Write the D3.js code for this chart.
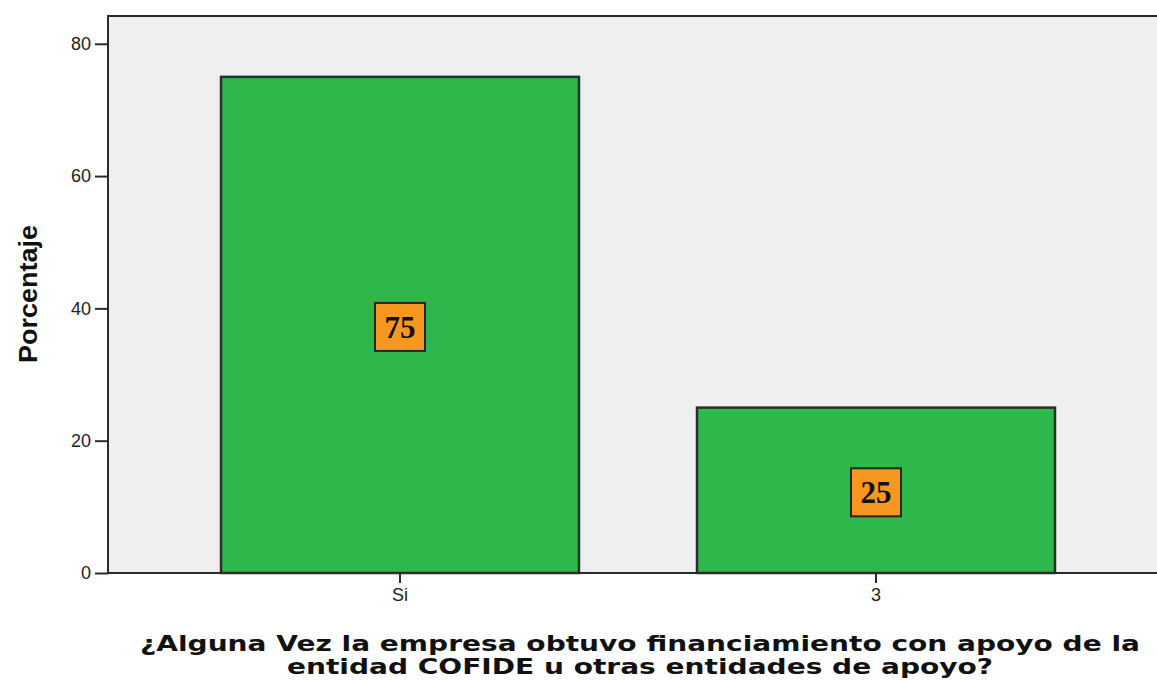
<!DOCTYPE html>
<html>
<head>
<meta charset="utf-8">
<script src="https://cdn.jsdelivr.net/npm/d3@7"></script>
<style>
  body { margin: 0; background: #fff; }
</style>
</head>
<body>
<div id="myplot"></div>
<script>
// data
var categories = ["Si", "3"];
var values = [75, 25];
var yTicks = [0, 20, 40, 60, 80];
var xTitle = ["¿Alguna Vez la empresa obtuvo financiamiento con apoyo de la",
              "entidad COFIDE u otras entidades de apoyo?"];

var svg = d3.select('div#myplot')
  .append('svg')
  .attr('width', 1157)
  .attr('height', 681);

var plot = {left: 108, top: 16, right: 1160, bottom: 573};

var x = d3.scaleBand()
  .domain(categories)
  .range([162, 1114])
  .paddingInner(0.248)
  .paddingOuter(0.124);

var y = d3.scaleLinear()
  .domain([0, 84.2])
  .range([plot.bottom, plot.top]);

// background
svg.append("rect")
  .attr("x", plot.left).attr("y", plot.top)
  .attr("width", plot.right - plot.left)
  .attr("height", plot.bottom - plot.top)
  .attr("fill", "#efefef")
  .attr("stroke", "#2b2b2b")
  .attr("stroke-width", 2);

// bars
svg.append("g").selectAll("rect")
  .data(values)
  .enter()
  .append("rect")
  .attr("x", (d, i) => x(categories[i]))
  .attr("y", d => y(d))
  .attr("width", x.bandwidth())
  .attr("height", d => y(0) - y(d))
  .attr("fill", "#2eb84b")
  .attr("stroke", "#26302a")
  .attr("stroke-width", 2.5);

// value labels
var lab = svg.append("g").selectAll("g")
  .data(values)
  .enter()
  .append("g")
  .attr("transform", (d, i) => "translate(" + (x(categories[i]) + x.bandwidth() / 2) + "," + (y(d / 2) + 2) + ")");

lab.append("rect")
  .attr("x", -25).attr("y", -24)
  .attr("width", 50).attr("height", 48)
  .attr("fill", "#f7971f")
  .attr("stroke", "#262626")
  .attr("stroke-width", 2);

lab.append("text")
  .attr("y", 11)
  .attr("text-anchor", "middle")
  .attr("font-family", "'Liberation Serif', 'Times New Roman', serif")
  .attr("font-weight", "bold")
  .attr("font-size", 31)
  .attr("fill", "#111")
  .text(d => d);

// y axis
var yAxis = svg.append("g")
  .attr("transform", "translate(" + plot.left + ",0)")
  .call(d3.axisLeft(y).tickValues(yTicks).tickSize(13).tickPadding(4));
yAxis.select(".domain").remove();
yAxis.selectAll("line").attr("stroke", "#2b2b2b").attr("stroke-width", 2);
yAxis.selectAll("text")
  .attr("font-family", "'Liberation Sans', Arial, sans-serif")
  .attr("font-size", 18)
  .attr("fill", "#222");

// x axis
var xAxis = svg.append("g")
  .attr("transform", "translate(0," + plot.bottom + ")")
  .call(d3.axisBottom(x).tickSize(10).tickPadding(5));
xAxis.select(".domain").remove();
xAxis.selectAll("line").attr("stroke", "#2b2b2b").attr("stroke-width", 2);
xAxis.selectAll("text")
  .attr("font-family", "'Liberation Sans', Arial, sans-serif")
  .attr("font-size", 18)
  .attr("fill", "#222");

// axis line at bottom drawn on top
svg.append("line")
  .attr("x1", plot.left).attr("x2", plot.right)
  .attr("y1", plot.bottom).attr("y2", plot.bottom)
  .attr("stroke", "#2b2b2b").attr("stroke-width", 2);

// titles
svg.append("text")
  .attr("transform", "translate(37,294) rotate(-90)")
  .attr("text-anchor", "middle")
  .attr("font-family", "'Liberation Sans Narrow', 'Liberation Sans', Arial, sans-serif")
  .attr("font-weight", "bold")
  .attr("font-size", 26)
  .attr("textLength", 138)
  .attr("lengthAdjust", "spacingAndGlyphs")
  .attr("fill", "#111")
  .text("Porcentaje");

var xt = svg.append("g").selectAll("text")
  .data(xTitle)
  .enter()
  .append("text")
  .attr("x", 640)
  .attr("y", (d, i) => 651 + i * 23)
  .attr("text-anchor", "middle")
  .attr("font-family", "'DejaVu Sans', Verdana, sans-serif")
  .attr("font-weight", "bold")
  .attr("font-size", 21)
  .attr("fill", "#111")
  .text(d => d);

// stretch the title so the first line spans about 1000px, like the original
var nodes = xt.nodes();
var factor = 1000 / nodes[0].getComputedTextLength();
nodes.forEach(function (n) {
  d3.select(n)
    .attr("textLength", n.getComputedTextLength() * factor)
    .attr("lengthAdjust", "spacingAndGlyphs");
});
</script>
</body>
</html>
